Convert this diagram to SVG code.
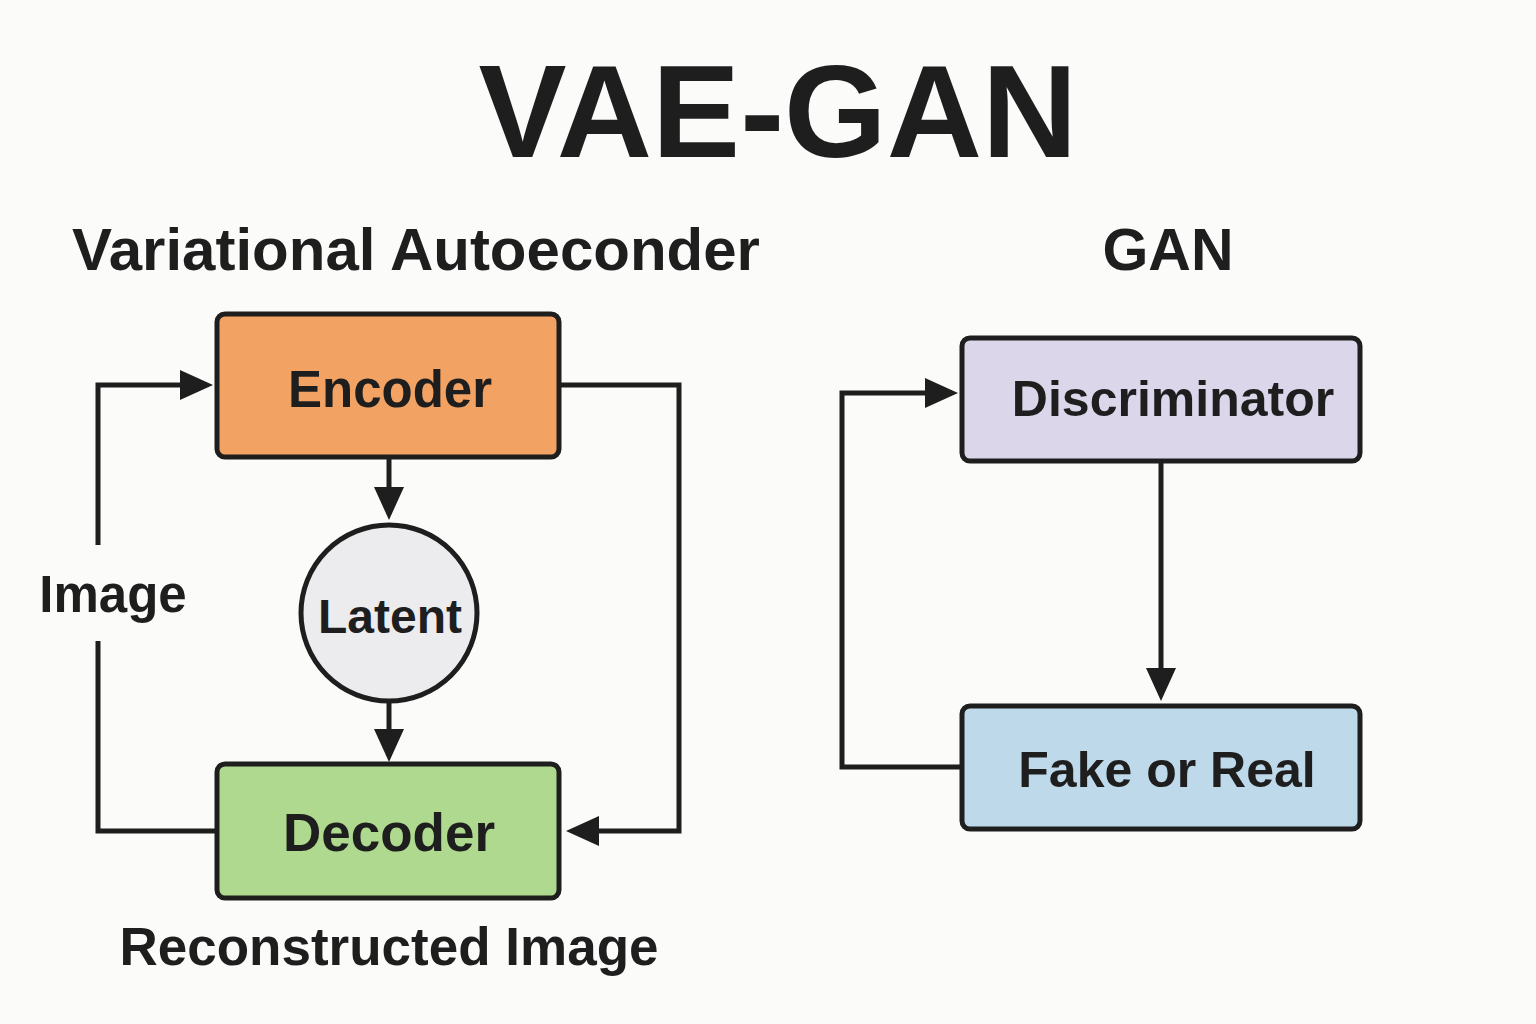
<svg xmlns="http://www.w3.org/2000/svg" width="1536" height="1024" viewBox="0 0 1536 1024">
<defs>
<marker id="arr" markerUnits="userSpaceOnUse" markerWidth="34" markerHeight="32" refX="27" refY="16" orient="auto">
<path d="M0,1 L33,16 L0,31 Z" fill="#1e1e1e"/>
</marker>
<style>
text{font-family:"Liberation Sans",Arial,sans-serif;font-weight:bold;fill:#1e1e1e}
.box{stroke:#1e1e1e;stroke-width:5}
.conn{fill:none;stroke:#1e1e1e;stroke-width:5}
.lbl{text-anchor:middle}
</style>
</defs>
<rect width="1536" height="1024" fill="#fbfbf9"/>
<text x="778" y="157" font-size="132" text-anchor="middle">VAE-GAN</text>
<text x="72" y="270" font-size="60">Variational Autoeconder</text>
<text x="1168" y="270" font-size="59" text-anchor="middle">GAN</text>
<g id="connectors">
<line class="conn" x1="389" y1="458" x2="389" y2="514" marker-end="url(#arr)"/>
<line class="conn" x1="389" y1="702" x2="389" y2="756" marker-end="url(#arr)"/>
<polyline class="conn" points="216,831 98,831 98,641"/>
<polyline class="conn" points="98,545 98,385 207,385" marker-end="url(#arr)"/>
<polyline class="conn" points="560,385 679,385 679,831 572,831" marker-end="url(#arr)"/>
<line class="conn" x1="1161" y1="462" x2="1161" y2="695" marker-end="url(#arr)"/>
<polyline class="conn" points="961,767 842,767 842,393 952,393" marker-end="url(#arr)"/>
</g>
<g id="encoder">
<rect class="box" x="217" y="314" width="342" height="143" rx="8" fill="#f2a262"/>
<text class="lbl" x="390" y="407" font-size="51">Encoder</text>
</g>
<g id="latent">
<circle class="box" cx="389" cy="613" r="88" fill="#ececee"/>
<text class="lbl" x="390" y="633" font-size="48">Latent</text>
</g>
<g id="decoder">
<rect class="box" x="217" y="764" width="342" height="134" rx="8" fill="#aed98e"/>
<text class="lbl" x="389" y="851" font-size="53">Decoder</text>
</g>
<g id="image-label">
<text x="113" y="612" font-size="51" text-anchor="middle">Image</text>
</g>
<g id="reconstructed-label">
<text x="389" y="965" font-size="53" text-anchor="middle">Reconstructed Image</text>
</g>
<g id="discriminator">
<rect class="box" x="962" y="338" width="398" height="123" rx="8" fill="#dcd6ea"/>
<text class="lbl" x="1173" y="416" font-size="50">Discriminator</text>
</g>
<g id="fake-or-real">
<rect class="box" x="962" y="706" width="398" height="123" rx="8" fill="#bed9ea"/>
<text class="lbl" x="1167" y="787" font-size="50">Fake or Real</text>
</g>
</svg>
